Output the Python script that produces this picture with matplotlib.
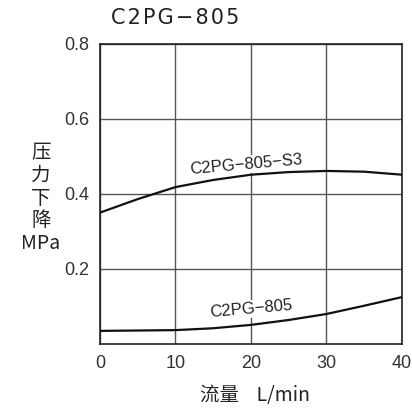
import matplotlib
matplotlib.use("Agg")
import matplotlib.pyplot as plt

plt.rcParams['font.family'] = ['Liberation Sans', 'Noto Sans CJK SC', 'DejaVu Sans']

flow = [0, 5, 10, 15, 20, 25, 30, 35, 40]
drop_s3 = [0.350, 0.386, 0.418, 0.437, 0.451, 0.458, 0.461, 0.459, 0.451]
drop_805 = [0.035, 0.036, 0.037, 0.042, 0.051, 0.064, 0.080, 0.102, 0.125]

xticks = [0, 10, 20, 30, 40]
yticks = [0.2, 0.4, 0.6, 0.8]
ytick_labels = ['0.2', '0.4', '0.6', '0.8']

fig = plt.figure(figsize=(4.12, 4.12), dpi=100)
ax = fig.add_axes([0.2427, 0.165, 0.733, 0.729])

ax.plot(flow, drop_s3, color='#111111', lw=1.6, zorder=3)
ax.plot(flow, drop_805, color='#111111', lw=1.6, zorder=3)

ax.set_xlim(0, 40)
ax.set_ylim(0, 0.8)
ax.set_xticks(xticks)
ax.set_xticklabels([str(t) for t in xticks])
ax.set_yticks(yticks)
ax.set_yticklabels(ytick_labels)
ax.tick_params(length=0, labelsize=13, colors='#333333', pad=8)
ax.grid(True, color='#555555', lw=1.0)
for s in ax.spines.values():
    s.set_color('#222222')
    s.set_linewidth(1.2)

ax.text(19.3, 0.478, 'C2PG−805−S3', rotation=5, ha='center', va='center', fontsize=12,
        color='#222222', bbox=dict(facecolor='white', edgecolor='none', pad=1), zorder=2)
ax.text(20, 0.093, 'C2PG−805', rotation=5, ha='center', va='center', fontsize=12,
        color='#222222', bbox=dict(facecolor='white', edgecolor='none', pad=1), zorder=2)

fig.text(111/412, 1 - 18/412, 'C\u200a2\u200aP\u200aG\u200a−\u200a8\u200a0\u200a5', ha='left', va='center',
         fontsize=15, color='#222222', family=['DejaVu Sans'])
fig.text(41/412, 1 - 198/412, '压\n力\n下\n降\nMPa', ha='center', va='center', fontsize=14,
         color='#222222', linespacing=1.1, family=['Noto Sans CJK SC', 'DejaVu Sans'])
fig.text(255/412, 1 - 396/412, '流量    L/min', ha='center', va='center', fontsize=14,
         color='#222222', family=['Noto Sans CJK SC', 'DejaVu Sans'])

fig.savefig('out.png', dpi=100)
